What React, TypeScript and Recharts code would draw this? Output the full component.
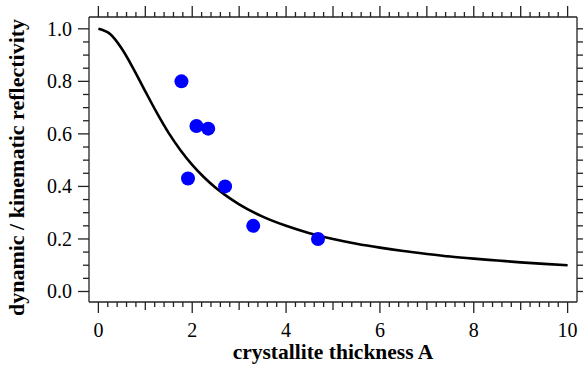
import React from 'react';
import { ComposedChart, Line, Scatter, XAxis, YAxis, Label } from 'recharts';

// theory curve
const curveX = [0, 0.25, 0.5, 0.75, 1, 1.25, 1.5, 1.75, 2, 2.25, 2.5, 2.75, 3, 3.5, 4, 4.5, 5, 5.5, 6, 6.5, 7, 7.5, 8, 8.5, 9, 9.5, 10];
const curveY = [1.0, 0.98, 0.924, 0.847, 0.762, 0.679, 0.603, 0.538, 0.482, 0.435, 0.395, 0.361, 0.332, 0.285, 0.25, 0.222, 0.2, 0.182, 0.167, 0.154, 0.143, 0.133, 0.125, 0.118, 0.111, 0.105, 0.1];

// measured points
const pointX = [1.77, 2.09, 2.34, 1.91, 2.7, 3.3, 4.68];
const pointY = [0.8, 0.63, 0.62, 0.43, 0.4, 0.25, 0.2];

const xMajorTicks = [0, 2, 4, 6, 8, 10];
const yMajorTicks = [0, 0.2, 0.4, 0.6, 0.8, 1.0];

const xTitle = 'crystallite thickness A';
const yTitle = 'dynamic / kinematic reflectivity';

const curveData = curveX.map((x, i) => ({ x, y: curveY[i] }));
const pointData = pointX.map((x, i) => ({ x, y: pointY[i] }));

// minor ticks every 0.2 on x, every 0.05 on y
const xTicks = Array.from({ length: 51 }, (_, i) => Math.round(i * 0.2 * 100) / 100);
const yTicks = Array.from({ length: 21 }, (_, i) => Math.round(i * 0.05 * 100) / 100);

const INK = '#222';
const FONT = '"Liberation Serif", "Times New Roman", serif';

const isXMajor = (v: number) => xMajorTicks.some(t => Math.abs(t - v) < 1e-6);
const isXUnit = (v: number) => Math.abs(v - Math.round(v)) < 1e-6;
const isYMajor = (v: number) => yMajorTicks.some(t => Math.abs(t - v) < 1e-6);

const BottomTick = (props: any) => {
  const { x, y, payload } = props;
  const v = payload.value;
  const len = isXMajor(v) ? 11 : isXUnit(v) ? 8 : 5;
  return (
    <g>
      <line x1={x} y1={y} x2={x} y2={y + len} stroke={INK} strokeWidth={1.3} />
      {isXMajor(v) && (
        <text x={x} y={y + 35} textAnchor="middle" fontFamily={FONT} fontSize={20} fill="#000">
          {Math.round(v)}
        </text>
      )}
    </g>
  );
};

const TopTick = (props: any) => {
  const { x, y, payload } = props;
  const len = isXUnit(payload.value) ? 11 : 5;
  return <line x1={x} y1={y} x2={x} y2={y - len} stroke={INK} strokeWidth={1.3} />;
};

const LeftTick = (props: any) => {
  const { x, y, payload } = props;
  const v = payload.value;
  const len = isYMajor(v) ? 11 : 6;
  return (
    <g>
      <line x1={x} y1={y} x2={x - len} y2={y} stroke={INK} strokeWidth={1.3} />
      {isYMajor(v) && (
        <text x={x - 17} y={y + 7} textAnchor="end" fontFamily={FONT} fontSize={20} fill="#000">
          {v.toFixed(1)}
        </text>
      )}
    </g>
  );
};

const RightTick = (props: any) => {
  const { x, y } = props;
  return <line x1={x} y1={y} x2={x + 6} y2={y} stroke={INK} strokeWidth={1.3} />;
};

const XTitle = (props: any) => {
  const vb = props.viewBox;
  return (
    <text x={vb.x + vb.width / 2} y={vb.y + 57} textAnchor="middle" fontFamily={FONT} fontWeight="bold" fontSize={21.5} fill="#000">
      {xTitle}
    </text>
  );
};

const YTitle = (props: any) => {
  const vb = props.viewBox;
  const cx = 24;
  const cy = vb.y + vb.height / 2 + 8;
  return (
    <text x={cx} y={cy} transform={`rotate(-90, ${cx}, ${cy})`} textAnchor="middle" fontFamily={FONT} fontWeight="bold" fontSize={22} fill="#000">
      {yTitle}
    </text>
  );
};

export default function App() {
  return (
    <div style={{ position: 'absolute', left: 0, top: 0, width: 584, height: 366, background: '#fff' }}>
      <ComposedChart width={584} height={366} margin={{ top: 0, right: 0, bottom: 0, left: 8 }}>
        <XAxis
          xAxisId="b"
          dataKey="x"
          type="number"
          orientation="bottom"
          domain={[-0.2, 10.2]}
          ticks={xTicks}
          interval={0}
          height={64}
          tickSize={0}
          tickMargin={0}
          tickLine={false}
          tick={<BottomTick />}
          axisLine={{ stroke: INK, strokeWidth: 1.3 }}
          allowDataOverflow
        >
          <Label content={<XTitle />} />
        </XAxis>
        <XAxis
          xAxisId="t"
          dataKey="x"
          type="number"
          orientation="top"
          domain={[-0.2, 10.2]}
          ticks={xTicks}
          interval={0}
          height={17}
          tickSize={0}
          tickMargin={0}
          tickLine={false}
          tick={<TopTick />}
          axisLine={{ stroke: INK, strokeWidth: 1.3 }}
          allowDataOverflow
        />
        <YAxis
          yAxisId="l"
          dataKey="y"
          type="number"
          orientation="left"
          domain={[-0.04, 1.045]}
          ticks={yTicks}
          interval={0}
          width={81}
          tickSize={0}
          tickMargin={0}
          tickLine={false}
          tick={<LeftTick />}
          axisLine={{ stroke: INK, strokeWidth: 1.3 }}
          allowDataOverflow
        >
          <Label content={<YTitle />} />
        </YAxis>
        <YAxis
          yAxisId="r"
          type="number"
          orientation="right"
          domain={[-0.04, 1.045]}
          ticks={yTicks}
          interval={0}
          width={7}
          tickSize={0}
          tickMargin={0}
          tickLine={false}
          tick={<RightTick />}
          axisLine={{ stroke: INK, strokeWidth: 1.3 }}
          allowDataOverflow
        />
        <Line
          xAxisId="b"
          yAxisId="l"
          data={curveData}
          dataKey="y"
          type="monotone"
          stroke="#000"
          strokeWidth={2.6}
          dot={false}
          isAnimationActive={false}
        />
        <Scatter
          xAxisId="b"
          yAxisId="l"
          data={pointData}
          dataKey="y"
          isAnimationActive={false}
          shape={(p: any) => <circle cx={p.cx} cy={p.cy} r={7} fill="#0000ff" />}
        />
      </ComposedChart>
    </div>
  );
}
